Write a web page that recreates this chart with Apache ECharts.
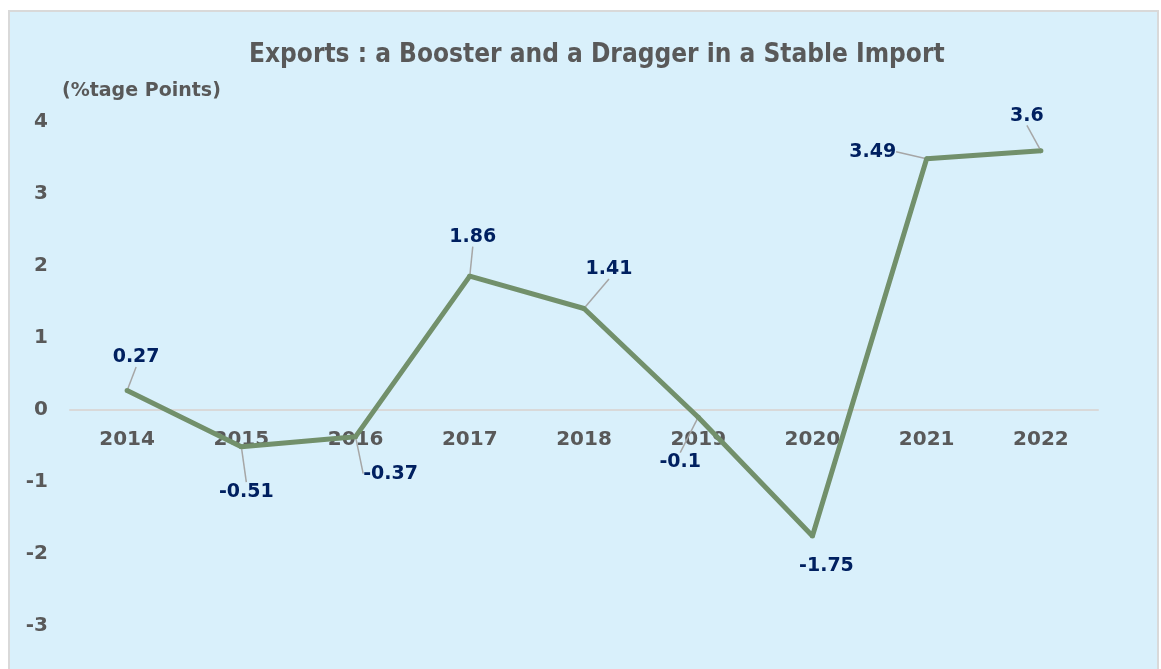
<!DOCTYPE html>
<html>
<head>
<meta charset="utf-8">
<script src="https://cdn.jsdelivr.net/npm/echarts@6/dist/echarts.min.js"></script>
<style>
  html, body { margin: 0; padding: 0; background: #ffffff; }
  #main { width: 1161px; height: 669px; }
</style>
</head>
<body>
<div id="main"></div>
<script>
// chart data
var years = ['2014', '2015', '2016', '2017', '2018', '2019', '2020', '2021', '2022'];
var exportPts = [0.27, -0.51, -0.37, 1.86, 1.41, -0.1, -1.75, 3.49, 3.6];
var yMin = -3, yMax = 4;

// label nudges (px) from the default 'top' spot, so leader lines show like the original
var labelDx = [9, 5, 35, 3, 25, -18, 14, -54, -14];
var labelDy = [-16, 62, 54, -22, -22, 62, 47, 10, -18];
var noLeader = [6]; // -1.75 has no leader line

var chart = echarts.init(document.getElementById('main'));

var gridTop = 122, gridBottom = 43;
var plotH = 669 - gridTop - gridBottom;
// put the category labels on the zero line
var zeroOffset = -plotH * (0 - yMin) / (yMax - yMin);

var seriesData = exportPts.map(function (v, i) {
   var item = { value: v };
   if (noLeader.indexOf(i) > -1) {
      item.labelLine = { show: false };
   }
   return item;
});

var option = {
   backgroundColor: '#ffffff',
   animation: false,
   graphic: [
      {
         type: 'rect',
         z: -100,
         silent: true,
         shape: { x: 9, y: 11, width: 1149, height: 670 },
         style: { fill: '#d9f0fb', stroke: '#d9d9d9', lineWidth: 2 }
      }
   ],
   title: {
      text: 'Exports : a Booster and a Dragger in a Stable Import',
      left: 244,
      top: 37,
      textStyle: {
         fontFamily: 'DejaVu Sans Condensed',
         fontWeight: 'bold',
         fontSize: 26,
         color: '#595959'
      }
   },
   grid: {
      left: 70,
      right: 63,
      top: gridTop,
      bottom: gridBottom
   },
   xAxis: {
      type: 'category',
      data: years,
      boundaryGap: true,
      offset: zeroOffset,
      axisLine: { onZero: false, lineStyle: { color: '#d9d9d9', width: 2 } },
      axisTick: { show: false },
      axisLabel: {
         margin: 20,
         fontFamily: 'DejaVu Sans',
         fontWeight: 'bold',
         fontSize: 20,
         color: '#595959'
      },
      splitLine: { show: false }
   },
   yAxis: {
      type: 'value',
      min: yMin,
      max: yMax,
      interval: 1,
      name: '(%tage Points)',
      nameLocation: 'end',
      nameGap: 21,
      nameTextStyle: {
         align: 'left',
         padding: [0, 0, 0, -8],
         fontFamily: 'DejaVu Sans',
         fontWeight: 'bold',
         fontSize: 19,
         color: '#595959'
      },
      axisLine: { show: false },
      axisTick: { show: false },
      splitLine: { show: false },
      axisLabel: {
         margin: 22,
         fontFamily: 'DejaVu Sans',
         fontWeight: 'bold',
         fontSize: 20,
         color: '#595959'
      }
   },
   series: [
      {
         name: 'Exports',
         type: 'line',
         data: seriesData,
         symbol: 'circle',
         symbolSize: 5,
         itemStyle: { color: '#72906b' },
         lineStyle: { color: '#72906b', width: 5 },
         label: {
            show: true,
            position: 'top',
            fontFamily: 'DejaVu Sans',
            fontWeight: 'bold',
            fontSize: 19,
            color: '#002060'
         },
         labelLine: {
            show: true,
            length2: 0,
            lineStyle: { color: '#a6a6a6', width: 1.5 }
         },
         labelLayout: function (params) {
            return {
               dx: labelDx[params.dataIndex],
               dy: labelDy[params.dataIndex],
               hideOverlap: false
            };
         }
      }
   ]
};

chart.setOption(option);
</script>
</body>
</html>
